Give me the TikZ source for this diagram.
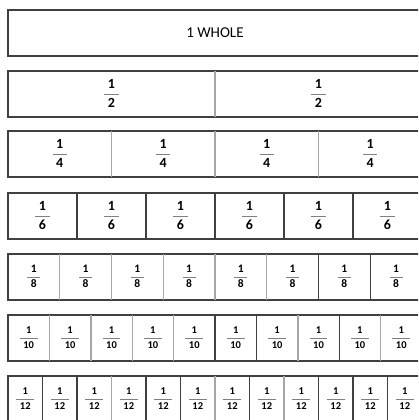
\documentclass[tikz,border=0pt]{standalone}
\usepackage{fontspec}
\usepackage{colortbl}
\setmainfont{Carlito}
\setlength{\arrayrulewidth}{0.9pt}
\arrayrulecolor{black!50}
\newcommand{\onepart}[1]{\setlength{\tabcolsep}{3.5pt}\renewcommand{\arraystretch}{1.3}%
  \begin{tabular}{c}\bfseries 1\\\hline\bfseries #1\end{tabular}}

\begin{document}
\begin{tikzpicture}[x=1pt,y=-1pt,
    rowbox/.style={draw=black!75,line width=1.8pt},
    divd/.style={draw=black!75,line width=1.1pt},
    divl/.style={draw=black!35,line width=1.4pt},
    part/.style={inner sep=0pt,align=center},
    whole/.style={inner sep=0pt,font=\fontsize{15}{17}\selectfont}]
  \useasboundingbox (0,0) rectangle (418,420);
  \clip (0,0) rectangle (418,420);

  % the whole
  \draw[rowbox] (8,10) rectangle (422,56);
  \node[whole] (w1) at (215,33) {1 WHOLE};

  % halves down to twelfths
  \foreach \n/\top/\sz/\divs in {
      2/71/14/{l},
      4/131/14/{l,l,l},
      6/193/14/{d,d,d,d,d},
      8/254/11.5/{l,l,l,l,l,d,d},
      10/315/10.5/{l,l,l,l,d,d,l,d,l},
      12/376/10.5/{d,d,l,d,d,l,d,l,d,d,d}} {
    \draw[rowbox] (8,\top) rectangle (422,\top+46);
    \foreach \s [count=\i] in \divs
      \draw[div\s] ({8+\i*414/\n},\top) -- ({8+\i*414/\n},\top+46);
    \foreach \i in {1,...,\n}
      \node[part,font=\fontsize{\sz}{\sz}\selectfont] (f\n-\i)
        at ({8+(\i-0.5)*414/\n},\top+23) {\onepart{\n}};
  }
\end{tikzpicture}
\end{document}
